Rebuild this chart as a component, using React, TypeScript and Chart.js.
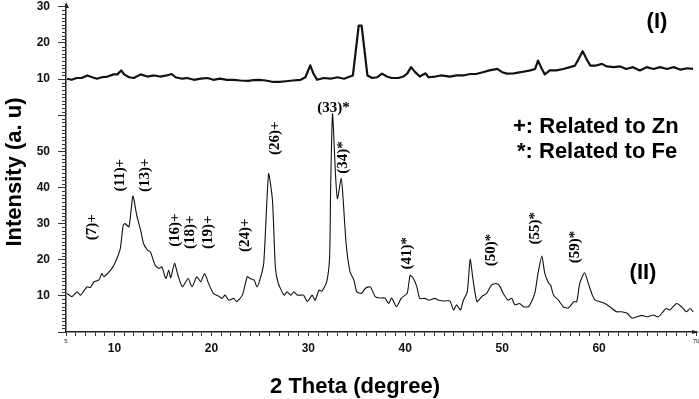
import React, { useEffect, useRef } from 'react';
import { Chart, registerables } from 'chart.js';
Chart.register(...registerables);

// Pattern (I) — intensity in its own panel units (10–30)
const thetaI = [5.1, 5.6, 6.1, 6.6, 7.2, 7.7, 8.2, 8.7, 9.3, 9.9, 10.3, 10.7, 11.0, 11.5, 12.0, 12.7, 13.4, 14.1, 14.7, 15.4, 15.9, 16.3, 17.0, 17.5, 18.2, 18.9, 19.6, 20.2, 20.9, 21.6, 22.3, 23.0, 23.8, 24.3, 24.9, 25.6, 26.4, 27.0, 27.7, 28.4, 29.2, 29.7, 30.2, 30.5, 30.9, 31.6, 32.3, 33.0, 33.7, 34.3, 34.6, 34.9, 35.2, 35.5, 35.8, 36.1, 36.6, 37.1, 37.6, 38.1, 38.6, 39.3, 39.8, 40.2, 40.6, 41.0, 41.5, 42.1, 42.4, 43.1, 43.7, 44.6, 45.3, 46.0, 46.7, 47.3, 48.0, 48.7, 49.5, 50.0, 50.5, 51.2, 51.9, 52.9, 53.4, 53.7, 54.1, 54.4, 54.9, 55.6, 56.3, 57.0, 57.5, 57.9, 58.3, 58.7, 59.1, 59.6, 60.3, 60.8, 61.5, 62.2, 62.8, 63.5, 64.2, 64.9, 65.6, 66.3, 67.0, 67.7, 68.4, 69.1, 69.7];
const intensityI = [10.1, 9.8, 10.3, 10.3, 11.0, 10.5, 10.1, 10.5, 10.7, 11.3, 11.3, 12.4, 11.3, 10.5, 10.3, 11.3, 10.7, 11.0, 10.7, 11.0, 11.4, 10.5, 10.1, 10.3, 9.8, 10.1, 10.3, 9.8, 10.1, 9.8, 9.8, 9.6, 9.5, 9.7, 9.8, 9.6, 9.2, 9.2, 9.4, 9.6, 9.8, 10.5, 13.8, 11.7, 9.8, 10.3, 10.1, 10.5, 10.1, 10.7, 11.0, 17.9, 24.8, 24.8, 17.9, 11.0, 10.3, 10.5, 11.5, 10.7, 10.3, 10.3, 10.7, 11.5, 13.3, 12.0, 10.7, 11.6, 10.5, 10.7, 11.0, 10.7, 11.0, 11.0, 11.4, 11.4, 11.9, 12.4, 12.8, 11.9, 11.5, 11.6, 11.9, 12.4, 12.8, 15.1, 12.8, 11.3, 12.4, 12.4, 12.8, 13.3, 13.7, 15.6, 17.7, 15.6, 13.7, 13.7, 14.2, 13.5, 13.3, 13.5, 12.8, 13.3, 12.4, 13.3, 12.8, 13.3, 12.8, 13.3, 12.6, 13.0, 12.8];
const OFFSET_I = 60;

// Pattern (II)
const thetaII = [5.1, 5.6, 6.15, 6.5, 6.9, 7.2, 7.5, 7.9, 8.4, 8.7, 8.9, 9.6, 10.1, 10.6, 10.9, 11.1, 11.5, 11.9, 12.3, 12.7, 13.0, 13.4, 13.7, 14.2, 14.6, 14.9, 15.3, 15.6, 15.8, 16.2, 16.5, 17.0, 17.6, 18.0, 18.5, 18.9, 19.3, 19.7, 20.2, 20.7, 21.1, 21.4, 21.8, 22.3, 22.6, 23.2, 23.7, 24.0, 24.4, 24.7, 25.0, 25.4, 25.9, 26.3, 26.6, 26.9, 27.5, 27.8, 28.2, 28.5, 28.9, 29.5, 29.9, 30.4, 30.7, 31.1, 31.4, 31.9, 32.2, 32.3, 32.5, 32.8, 33.0, 33.4, 33.6, 33.9, 34.3, 34.7, 35.0, 35.5, 35.9, 36.4, 36.9, 37.4, 37.9, 38.3, 38.6, 39.1, 39.6, 40.2, 40.5, 40.8, 41.2, 41.5, 42.0, 42.5, 43.0, 43.5, 44.1, 44.6, 45.0, 45.3, 45.7, 46.0, 46.4, 46.7, 47.0, 47.4, 47.9, 48.4, 48.9, 49.4, 49.8, 50.1, 50.6, 51.0, 51.3, 51.8, 52.2, 52.7, 53.1, 53.4, 53.7, 54.1, 54.4, 54.8, 55.0, 55.3, 55.8, 56.3, 56.8, 57.4, 57.7, 58.0, 58.5, 58.9, 59.3, 59.6, 60.1, 60.6, 61.1, 61.8, 62.3, 62.9, 63.4, 63.9, 64.4, 64.9, 65.6, 66.1, 66.6, 66.9, 67.3, 68.0, 68.5, 69.0, 69.4, 69.7];
const intensityII = [10.7, 9.8, 11.1, 10.2, 11.6, 12.5, 12.3, 13.9, 14.4, 16.2, 15.3, 17.1, 19.4, 23.1, 29.6, 30.0, 29.1, 37.6, 32.3, 28.2, 24.5, 22.7, 22.2, 18.5, 17.6, 18.0, 14.8, 17.1, 15.0, 19.0, 16.2, 12.5, 14.8, 12.5, 15.3, 13.9, 16.2, 13.5, 10.7, 10.0, 9.3, 10.2, 8.8, 9.3, 8.4, 10.2, 15.3, 14.8, 14.4, 12.5, 14.4, 19.0, 43.8, 36.5, 18.0, 13.5, 10.2, 11.1, 10.2, 11.1, 10.2, 10.2, 8.4, 10.2, 8.8, 11.6, 11.3, 13.9, 20.8, 39.2, 60.4, 43.8, 36.9, 42.5, 36.5, 24.5, 16.7, 14.4, 11.1, 10.7, 12.1, 12.5, 9.8, 9.4, 9.4, 7.9, 9.4, 7.0, 9.4, 10.7, 15.7, 15.0, 12.5, 9.3, 9.3, 8.8, 9.3, 8.8, 8.6, 8.6, 6.1, 7.5, 6.1, 8.8, 11.1, 20.1, 14.4, 8.4, 9.8, 10.7, 13.0, 13.4, 12.5, 10.7, 8.8, 9.3, 7.5, 7.9, 7.0, 7.0, 8.8, 11.1, 16.2, 21.0, 16.2, 13.5, 13.0, 10.2, 8.8, 7.0, 6.6, 8.4, 8.4, 13.4, 16.4, 13.4, 10.2, 8.8, 8.4, 7.9, 7.0, 5.6, 5.6, 5.2, 3.8, 4.2, 4.6, 4.2, 4.7, 4.2, 5.6, 6.5, 6.1, 7.9, 7.0, 5.6, 6.5, 5.6];

// Tick labels
const xTickLabels = [10, 20, 30, 40, 50, 60];
const xEndLabels = [5, 70];
const yTicksII = [10, 20, 30, 40, 50];
const yTicksI = [10, 20, 30];

// Peak annotations (label, 2θ, intensity position, rotated)
const peakLabels = ['(7)+', '(11)+', '(13)+', '(16)+', '(18)+', '(19)+', '(24)+', '(26)+', '(33)*', '(34)*', '(41)*', '(50)*', '(55)*', '(59)*'];
const peakTheta = [7.7, 10.6, 13.2, 16.3, 17.8, 19.7, 23.5, 26.6, 32.6, 33.6, 40.2, 48.9, 53.4, 57.5];
const peakIntensity = [29.0, 43.4, 43.4, 28.2, 27.6, 27.6, 26.8, 53.6, 61.9, 48.3, 21.8, 22.7, 28.7, 23.5];
const peakRotated = [true, true, true, true, true, true, true, true, false, true, true, true, true, true];

const legendLines = ['+: Related to Zn', '*: Related to Fe'];
const seriesNames = ['(I)', '(II)'];
const xTitle = '2 Theta (degree)';
const yTitle = 'Intensity (a. u)';

const SANS = '"Liberation Sans", Arial, sans-serif';
const SERIF = '"Liberation Serif", "Times New Roman", serif';

const decorations = {
  id: 'decorations',
  afterDraw(chart: any) {
    const { ctx, chartArea, scales } = chart;
    const x = scales.x;
    const y = scales.y;
    ctx.save();
    // minor y ticks
    ctx.strokeStyle = '#333';
    ctx.lineWidth = 1;
    for (let v = 1; v <= 90; v++) {
      if (v % 10 === 0) continue;
      const py = Math.round(y.getPixelForValue(v)) + 0.5;
      ctx.beginPath();
      ctx.moveTo(chartArea.left - 4, py);
      ctx.lineTo(chartArea.left, py);
      ctx.stroke();
    }
    // arrows
    ctx.fillStyle = '#222';
    ctx.beginPath();
    ctx.moveTo(chartArea.left, chartArea.top - 3);
    ctx.lineTo(chartArea.left + 3, chartArea.top + 3);
    ctx.lineTo(chartArea.left - 1, chartArea.top + 3);
    ctx.closePath();
    ctx.fill();
    ctx.beginPath();
    ctx.moveTo(chartArea.right + 3, chartArea.bottom);
    ctx.lineTo(chartArea.right - 4, chartArea.bottom - 2);
    ctx.lineTo(chartArea.right - 4, chartArea.bottom + 2);
    ctx.closePath();
    ctx.fill();

    // tiny end labels on x
    ctx.fillStyle = '#222';
    ctx.font = `6px ${SANS}`;
    ctx.textAlign = 'center';
    ctx.textBaseline = 'middle';
    xEndLabels.forEach((v) => {
      ctx.fillText(String(v), x.getPixelForValue(v), chartArea.bottom + 9);
    });

    // axis titles
    ctx.fillStyle = '#000';
    ctx.font = `bold 22px ${SANS}`;
    ctx.textAlign = 'center';
    ctx.textBaseline = 'alphabetic';
    ctx.fillText(xTitle, 355, 393);
    ctx.save();
    ctx.translate(21, 172);
    ctx.rotate(-Math.PI / 2);
    ctx.fillText(yTitle, 0, 0);
    ctx.restore();

    // series labels
    ctx.fillText(seriesNames[0], 657, 28);
    ctx.fillText(seriesNames[1], 643, 279);

    // legend text
    ctx.textAlign = 'left';
    ctx.fillText(legendLines[0], 513, 133);
    ctx.fillText(legendLines[1], 517, 158);

    // peak annotations
    ctx.font = `bold 15px ${SERIF}`;
    ctx.textAlign = 'center';
    ctx.textBaseline = 'middle';
    peakLabels.forEach((lab, i) => {
      const px = x.getPixelForValue(peakTheta[i]);
      const py = y.getPixelForValue(peakIntensity[i]);
      ctx.save();
      ctx.translate(px, py);
      if (peakRotated[i]) ctx.rotate(-Math.PI / 2);
      ctx.fillText(lab, 0, 0);
      ctx.restore();
    });
    ctx.restore();
  },
};

export default function App() {
  const ref = useRef<HTMLCanvasElement>(null);
  useEffect(() => {
    if (!ref.current) return;
    const dataI = thetaI.map((t, i) => ({ x: t, y: intensityI[i] + OFFSET_I }));
    const dataII = thetaII.map((t, i) => ({ x: t, y: intensityII[i] }));
    const chart = new Chart(ref.current, {
      type: 'line',
      data: {
        datasets: [
          { label: seriesNames[0], data: dataI, borderColor: '#111', borderWidth: 2.2, pointRadius: 0, tension: 0, borderJoinStyle: 'round' } as any,
          { label: seriesNames[1], data: dataII, borderColor: '#111', borderWidth: 1.1, pointRadius: 0, tension: 0.2 } as any,
        ],
      },
      options: {
        responsive: false,
        animation: false,
        devicePixelRatio: 1,
        layout: { padding: { left: 0, right: 3, top: 5, bottom: 0 } },
        plugins: { legend: { display: false }, tooltip: { enabled: false } },
        scales: {
          x: {
            type: 'linear',
            min: 5,
            max: 70,
            afterFit: (s: any) => { s.height = 67; s.paddingLeft = 0; s.paddingRight = 0; },
            border: { display: true, color: '#222', width: 1.5 },
            grid: { drawOnChartArea: false, drawTicks: true, tickLength: 4, color: '#333' },
            ticks: {
              stepSize: 1,
              autoSkip: false,
              maxRotation: 0,
              padding: 5,
              color: '#111',
              font: { family: SANS, size: 12, weight: 'bold' },
              callback: (v: any) => (xTickLabels.includes(Number(v)) ? String(v) : ''),
            },
          },
          y: {
            type: 'linear',
            min: 0,
            max: 90.5,
            afterFit: (s: any) => { s.width = 66; s.paddingTop = 0; s.paddingBottom = 0; },
            border: { display: true, color: '#222', width: 1.5 },
            grid: { drawOnChartArea: false, drawTicks: true, tickLength: 8, color: '#333' },
            ticks: {
              stepSize: 10,
              includeBounds: false,
              autoSkip: false,
              padding: 8,
              color: '#111',
              font: { family: SANS, size: 12, weight: 'bold' },
              callback: (v: any) => {
                const n = Number(v);
                if (yTicksII.includes(n)) return String(n);
                if (yTicksI.includes(n - OFFSET_I)) return String(n - OFFSET_I);
                return '';
              },
            },
          },
        },
      } as any,
      plugins: [decorations],
    });
    return () => chart.destroy();
  }, []);
  return (
    <div style={{ position: 'absolute', left: 0, top: 0, width: 699, height: 399, background: '#fff' }}>
      <canvas ref={ref} width={699} height={399} style={{ width: 699, height: 399 }} />
    </div>
  );
}
